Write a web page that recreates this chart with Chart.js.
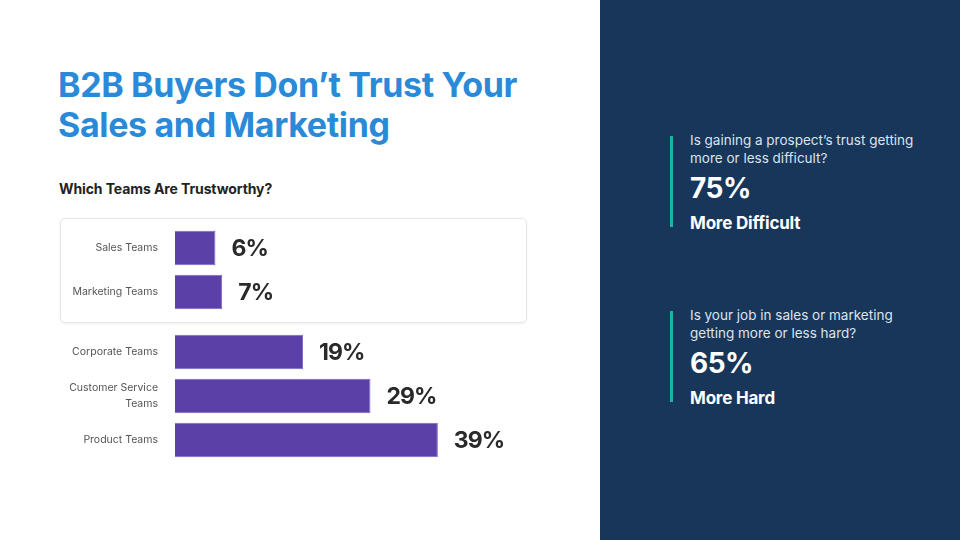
<!DOCTYPE html>
<html>
<head>
<meta charset="utf-8">
<script src="https://cdn.jsdelivr.net/npm/chart.js@4.4.1/dist/chart.umd.min.js"></script>
<style>
  html, body { margin:0; padding:0; }
  body { width:960px; height:540px; position:relative; overflow:hidden; background:#ffffff; font-family: Inter, Roboto, sans-serif; }
  #title { position:absolute; left:58px; top:65px; margin:0; font-size:34px; line-height:40px; font-weight:700; color:#2b8ad8; letter-spacing:-0.35px; white-space:nowrap; }
  #subtitle { position:absolute; left:59px; top:180px; margin:0; font-size:14px; font-weight:700; color:#222; letter-spacing:-0.1px; white-space:nowrap; }
  #card { position:absolute; left:60px; top:218px; width:465px; height:103px; border:1px solid #e6e6e6; border-radius:5px; box-shadow:0 1px 3px rgba(0,0,0,0.06); background:#fff; }
  canvas.ch { position:absolute; left:60px; }
  #c1 { top:226px; }
  #c2 { top:330px; }
  #panel { position:absolute; left:600px; top:0; width:360px; height:540px; background:#17365a; }
  .stat { position:absolute; left:70px; width:280px; }
  .stat .bar { position:absolute; left:0; top:0; width:3px; background:#20b3a1; }
  .stat .q { position:absolute; left:20px; top:-5px; font-size:13.5px; line-height:18px; color:#dbe3ec; white-space:nowrap; }
  .stat .pct { position:absolute; left:20px; font-size:28px; font-weight:700; color:#ffffff; letter-spacing:-0.5px; white-space:nowrap; }
  .stat .lab { position:absolute; left:20px; font-size:17px; font-weight:700; color:#ffffff; letter-spacing:-0.2px; white-space:nowrap; }
</style>
</head>
<body>
<h1 id="title">B2B Buyers Don’t Trust Your<br>Sales and Marketing</h1>
<p id="subtitle">Which Teams Are Trustworthy?</p>
<div id="card"></div>
<canvas class="ch" id="c1" width="452" height="88"></canvas>
<canvas class="ch" id="c2" width="452" height="132"></canvas>

<div id="panel">
  <div class="stat" style="top:136px;">
    <div class="bar" style="height:91px;"></div>
    <div class="q">Is gaining a prospect’s trust getting<br>more or less difficult?</div>
    <div class="pct" style="top:35px;">75%</div>
    <div class="lab" style="top:77px;">More Difficult</div>
  </div>
  <div class="stat" style="top:311px;">
    <div class="bar" style="height:91px;"></div>
    <div class="q">Is your job in sales or marketing<br>getting more or less hard?</div>
    <div class="pct" style="top:35px;">65%</div>
    <div class="lab" style="top:77px;">More Hard</div>
  </div>
</div>

<script>
// Highlighted group (inside card)
const topCategories = ["Sales Teams", "Marketing Teams"];
const topValues = [6, 7];
// Other teams
const bottomCategories = ["Corporate Teams", ["Customer Service", "Teams"], "Product Teams"];
const bottomValues = [19, 29, 39];
const axisMax = 50;

const valueLabelPlugin = {
  id: 'valueLabels',
  afterDatasetsDraw(chart) {
    const ctx = chart.ctx;
    const meta = chart.getDatasetMeta(0);
    ctx.save();
    ctx.font = '700 23px Inter, Roboto, sans-serif';
    try { ctx.letterSpacing = '-0.9px'; } catch (e) {}
    ctx.fillStyle = '#2a2a2a';
    ctx.textAlign = 'left';
    ctx.textBaseline = 'middle';
    meta.data.forEach((el, i) => {
      const v = chart.data.datasets[0].data[i];
      ctx.fillText(v + '%', el.x + 16, el.y + 1);
    });
    ctx.restore();
  }
};

function makeChart(id, labels, values) {
  return new Chart(document.getElementById(id), {
    type: 'bar',
    data: {
      labels: labels,
      datasets: [{
        data: values,
        backgroundColor: '#5b40a8',
        borderColor: '#7e66c9',
        borderWidth: 1,
        barPercentage: 0.78,
        categoryPercentage: 1.0
      }]
    },
    options: {
      indexAxis: 'y',
      responsive: false,
      animation: false,
      layout: { padding: 0 },
      plugins: { legend: { display: false }, tooltip: { enabled: false } },
      scales: {
        x: { display: false, min: 0, max: axisMax },
        y: {
          grid: { display: false, drawTicks: false },
          border: { display: false },
          afterFit(scale) {
            scale.width = 115;
            scale.paddingTop = 0;
            scale.paddingBottom = 0;
          },
          ticks: {
            padding: 17,
            color: '#555555',
            font: { family: 'Inter, Roboto, sans-serif', size: 10.5, lineHeight: 1.5 }
          }
        }
      }
    },
    plugins: [valueLabelPlugin]
  });
}

makeChart('c1', topCategories, topValues);
makeChart('c2', bottomCategories, bottomValues);
</script>
</body>
</html>
